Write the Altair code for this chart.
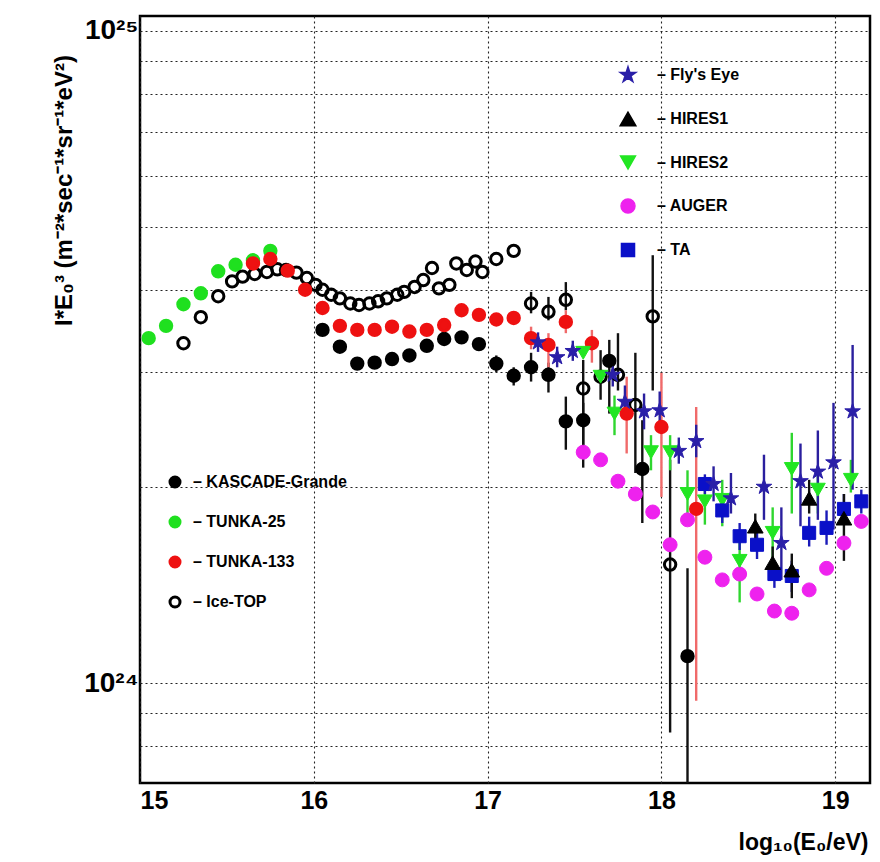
import altair as alt
import pandas as pd
import numpy as np

# x = log10(E0/eV); y, lo, hi in units of 1e24 m^-2 sec^-1 sr^-1 eV^2 (lo/hi = error bar ends)
kg_x = [16.05, 16.15, 16.25, 16.35, 16.45, 16.55, 16.65, 16.75, 16.85, 16.95,
        17.05, 17.15, 17.25, 17.35, 17.45, 17.55, 17.70, 17.89, 18.15]
kg_y = [3.48, 3.28, 3.09, 3.10, 3.14, 3.18, 3.29, 3.37, 3.39, 3.31,
        3.09, 2.96, 3.05, 2.97, 2.52, 2.53, 3.12, 2.13, 1.10]
kg_lo = [None] * 10 + [3.00, 2.86, 2.90, 2.79, 2.28, 2.14, 2.59, 1.76, 0.60]
kg_hi = [None] * 10 + [3.18, 3.05, 3.21, 3.10, 2.75, 2.69, 3.36, 2.53, 1.50]

t25_x = [15.05, 15.15, 15.25, 15.35, 15.45, 15.55, 15.65, 15.75]
t25_y = [3.38, 3.53, 3.81, 3.96, 4.28, 4.38, 4.45, 4.60]

t133_x = [15.65, 15.75, 15.85, 15.95, 16.05, 16.15, 16.25, 16.35, 16.45, 16.55, 16.65,
          16.75, 16.85, 16.95, 17.05, 17.15, 17.25, 17.35, 17.45, 17.60, 17.80, 18.00, 18.20]
t133_y = [4.40, 4.47, 4.29, 4.01, 3.76, 3.53, 3.48, 3.48, 3.52, 3.46, 3.48,
          3.54, 3.73, 3.67, 3.61, 3.63, 3.38, 3.30, 3.58, 3.32, 2.59, 2.47, 1.85]
t133_lo = [None] * 16 + [3.25, 3.05, 3.44, 3.10, 2.25, 1.93, 0.94]
t133_hi = [None] * 16 + [3.52, 3.44, 3.73, 3.48, 2.95, 2.99, 2.65]

it_x = [15.25, 15.35, 15.45, 15.53, 15.59, 15.66, 15.73, 15.79, 15.84, 15.90, 15.96,
        16.01, 16.05, 16.10, 16.15, 16.21, 16.26, 16.32, 16.37, 16.42, 16.48,
        16.52, 16.58, 16.63, 16.68, 16.72, 16.78, 16.82, 16.88, 16.93, 16.97,
        17.05, 17.15, 17.25, 17.35, 17.45, 17.55, 17.65, 17.75, 17.85, 17.95, 18.05]
it_y = [3.32, 3.64, 3.92, 4.13, 4.20, 4.24, 4.27, 4.31, 4.30, 4.26, 4.18,
        4.08, 4.01, 3.94, 3.89, 3.82, 3.80, 3.82, 3.85, 3.89, 3.94,
        3.98, 4.05, 4.15, 4.33, 4.03, 4.08, 4.40, 4.30, 4.43, 4.27,
        4.47, 4.60, 3.82, 3.71, 3.87, 2.83, 2.95, 2.97, 2.67, 3.65, 1.52]
it_lo = [None] * 33 + [3.69, 3.60, 3.73, 2.28, 2.72, 2.81, 2.10, 2.81, 0.84]
it_hi = [None] * 33 + [3.98, 3.91, 4.12, 3.13, 3.24, 3.44, 3.21, 4.53, 2.20]

fe_x = [17.29, 17.40, 17.49, 17.72, 17.79, 17.90, 17.99, 18.10, 18.20, 18.30,
        18.40, 18.59, 18.69, 18.80, 18.90, 18.99, 19.10]
fe_y = [3.33, 3.16, 3.23, 2.97, 2.70, 2.61, 2.62, 2.27, 2.35, 2.02,
        1.92, 2.00, 1.64, 2.04, 2.11, 2.18, 2.61]
fe_lo = [3.22, 3.05, 3.12, 2.85, 2.55, 2.45, 2.45, 2.17, 2.22, 1.90,
         1.82, 1.78, 1.44, 1.74, 1.78, 1.72, 1.98]
fe_hi = [3.45, 3.28, 3.35, 3.10, 2.86, 2.78, 2.80, 2.38, 2.49, 2.15,
         2.10, 2.24, 1.86, 2.33, 2.44, 2.69, 3.30]

h1_x = [18.54, 18.64, 18.75, 18.85, 19.05]
h1_y = [1.74, 1.53, 1.49, 1.92, 1.79]
h1_lo = [1.62, 1.44, 1.35, 1.82, 1.54]
h1_hi = [1.82, 1.62, 1.58, 2.05, 1.95]

h2_x = [17.55, 17.65, 17.73, 17.94, 18.05, 18.15, 18.25, 18.35, 18.45, 18.64, 18.75, 18.90, 19.09]
h2_y = [3.21, 2.95, 2.59, 2.26, 2.26, 1.95, 1.90, 1.91, 1.54, 1.70, 2.13, 1.98, 2.05]
h2_lo = [None, None, 2.40, 2.12, 2.12, 1.78, 1.75, 1.74, 1.33, 1.44, 1.82, 1.82, 1.96]
h2_hi = [None, None, 2.76, 2.40, 2.40, 2.12, 2.05, 2.05, 1.64, 1.86, 2.42, 2.12, 2.20]

au_x = [17.55, 17.65, 17.75, 17.85, 17.95, 18.05, 18.15, 18.25, 18.35, 18.45,
        18.55, 18.65, 18.75, 18.85, 18.95, 19.05, 19.15]
au_y = [2.26, 2.20, 2.04, 1.95, 1.83, 1.63, 1.78, 1.56, 1.44, 1.47,
        1.37, 1.29, 1.28, 1.39, 1.50, 1.64, 1.77]

ta_x = [18.25, 18.35, 18.45, 18.55, 18.65, 18.75, 18.85, 18.95, 19.05, 19.15]
ta_y = [2.02, 1.84, 1.68, 1.63, 1.47, 1.46, 1.70, 1.73, 1.85, 1.90]
ta_lo = [1.95, 1.76, 1.60, 1.55, 1.40, 1.38, 1.62, 1.63, 1.76, 1.82]
ta_hi = [2.09, 1.92, 1.76, 1.71, 1.54, 1.54, 1.80, 1.84, 1.95, 1.98]

group_a = ["KASCADE-Grande", "TUNKA-25", "TUNKA-133", "Ice-TOP"]
group_b = ["Fly's Eye", "HIRES1", "HIRES2", "AUGER", "TA"]

y_ticks = [8e23, 9e23, 1e24, 2e24, 3e24, 4e24, 5e24, 6e24, 7e24, 8e24, 9e24, 1e25]
x_ticks = [15, 16, 17, 18, 19]

UNIT = 1e24


def frame(name, xs, ys, lo=None, hi=None):
    n = len(xs)
    lo = lo if lo is not None else [None] * n
    hi = hi if hi is not None else [None] * n
    return pd.DataFrame({
        "series": name,
        "x": xs,
        "y": [v * UNIT for v in ys],
        "lo": [np.nan if v is None else v * UNIT for v in lo],
        "hi": [np.nan if v is None else v * UNIT for v in hi],
    })


# drawing order within each group
df_a = pd.concat([
    frame("TUNKA-25", t25_x, t25_y),
    frame("Ice-TOP", it_x, it_y, it_lo, it_hi),
    frame("KASCADE-Grande", kg_x, kg_y, kg_lo, kg_hi),
    frame("TUNKA-133", t133_x, t133_y, t133_lo, t133_hi),
], ignore_index=True)
df_b = pd.concat([
    frame("AUGER", au_x, au_y),
    frame("HIRES2", h2_x, h2_y, h2_lo, h2_hi),
    frame("TA", ta_x, ta_y, ta_lo, ta_hi),
    frame("Fly's Eye", fe_x, fe_y, fe_lo, fe_hi),
    frame("HIRES1", h1_x, h1_y, h1_lo, h1_hi),
], ignore_index=True)

err_color = {
    "KASCADE-Grande": "#111111", "TUNKA-133": "#f06a6a", "Ice-TOP": "#111111",
    "Fly's Eye": "#2a1f9e", "HIRES1": "#111111", "HIRES2": "#2fd62f", "TA": "#1a1ab8",
}
err_df = pd.concat([df_a, df_b], ignore_index=True).dropna(subset=["lo"]).copy()
err_df["ecolor"] = err_df["series"].map(err_color)
err_order = ["Ice-TOP", "KASCADE-Grande", "TUNKA-133", "HIRES2", "TA", "Fly's Eye", "HIRES1"]
err_df["ord"] = err_df["series"].map({s: i for i, s in enumerate(err_order)})
err_df = err_df.sort_values("ord", kind="stable")

STAR = ("M0,-1L0.2245,-0.309L0.951,-0.309L0.363,0.118L0.588,0.809L0,0.382"
        "L-0.588,0.809L-0.363,0.118L-0.951,-0.309L-0.2245,-0.309Z")

FONT = "Liberation Sans"
Y_TITLE = "I*E\u2080\u00b3 (m\u207b\u00b2*sec\u207b\u00b9*sr\u207b\u00b9*eV\u00b2)"
X_TITLE = "log\u2081\u2080(E\u2080/eV)"

x_scale = alt.Scale(domain=[15, 19.2], nice=False, zero=False)
y_scale = alt.Scale(type="log", domain=[7.03e23, 1.054e25], nice=False)

x_axis = alt.Axis(values=x_ticks, title=X_TITLE, format="d", grid=True, ticks=False, domain=False,
                  labelFont=FONT, labelFontSize=25, labelFontWeight="bold", labelPadding=5,
                  labelColor="black", titleFont=FONT, titleFontSize=23, titleFontWeight="bold",
                  titleColor="black", titleAnchor="end", titleAlign="right", titleX=728, titleY=66,
                  titleBaseline="alphabetic")
y_axis = alt.Axis(values=y_ticks, title=Y_TITLE, grid=True, ticks=False, domain=False,
                  labelExpr="datum.value == 1e24 ? '10\u00b2\u2074' : (datum.value == 1e25 ? '10\u00b2\u2075' : '')",
                  labelFont=FONT, labelFontSize=28, labelFontWeight="bold", labelPadding=2,
                  labelColor="black", labelBaseline="middle",
                  titleFont=FONT, titleFontSize=24, titleFontWeight="bold", titleColor="black",
                  titleAngle=-90, titleX=-76, titleY=174, titleAlign="center", titleBaseline="middle")


def X(field):
    return alt.X(f"{field}:Q", scale=x_scale, axis=x_axis, title=X_TITLE)


def Y(field):
    return alt.Y(f"{field}:Q", scale=y_scale, axis=y_axis, title=Y_TITLE)


errors = alt.Chart(err_df).mark_rule(strokeWidth=2.4, clip=True).encode(
    x=X("x"), y=Y("lo"), y2="hi",
    stroke=alt.Stroke("ecolor:N", scale=None, legend=None),
)

leg_a = alt.Legend(orient="none", legendX=27, legendY=458, title=None,
                   labelExpr="'\u2013 ' + datum.label", labelFont=FONT, labelFontSize=16,
                   labelFontWeight="bold", labelColor="black", labelOffset=10,
                   rowPadding=18, symbolStrokeWidth=3)
fill_a = ["#000000", "#1fe01f", "#ee1111", "transparent"]
stroke_a = ["#000000", "#1fe01f", "#ee1111", "#000000"]
points_a = alt.Chart(df_a).mark_point(filled=True, size=130, strokeWidth=3, opacity=1, clip=True).encode(
    x=X("x"), y=Y("y"),
    fill=alt.Fill("series:N", scale=alt.Scale(domain=group_a, range=fill_a), legend=leg_a),
    stroke=alt.Stroke("series:N", scale=alt.Scale(domain=group_a, range=stroke_a), legend=leg_a),
    shape=alt.Shape("series:N", scale=alt.Scale(domain=group_a, range=["circle"] * 4), legend=leg_a),
)

leg_b = alt.Legend(orient="none", legendX=479, legendY=50, title=None,
                   labelExpr="'\u2013 ' + datum.label", labelFont=FONT, labelFontSize=16,
                   labelFontWeight="bold", labelColor="black", labelOffset=20,
                   rowPadding=24)
col_b = ["#2a1fa8", "#000000", "#22e622", "#ee22ee", "#0a10c8"]
shape_b = [STAR, "triangle-up", "triangle-down", "circle", "square"]
size_b = [270, 170, 170, 190, 200]
points_b = alt.Chart(df_b).mark_point(filled=True, strokeWidth=1, opacity=1, clip=True).encode(
    x=X("x"), y=Y("y"),
    fill=alt.Fill("series:N", scale=alt.Scale(domain=group_b, range=col_b), legend=leg_b),
    stroke=alt.Stroke("series:N", scale=alt.Scale(domain=group_b, range=col_b), legend=leg_b),
    shape=alt.Shape("series:N", scale=alt.Scale(domain=group_b, range=shape_b), legend=leg_b),
    size=alt.Size("series:N", scale=alt.Scale(domain=group_b, range=size_b), legend=leg_b),
)

chart = alt.layer(errors, points_a, points_b).resolve_scale(
    fill="independent", stroke="independent", shape="independent", size="independent"
).resolve_legend(
    fill="independent", stroke="independent", shape="independent", size="independent"
).properties(
    width=730, height=767,
    autosize=alt.AutoSizeParams(type="none"),
    padding={"left": 132, "top": 8, "right": 2, "bottom": 80},
    background="white",
).configure_view(
    stroke="black", strokeWidth=2.5
).configure_axis(
    gridColor="#222222", gridDash=[2, 3], gridWidth=1.1, gridOpacity=1
)

chart.save("out.html", embed_options={"renderer": "svg", "actions": False})
